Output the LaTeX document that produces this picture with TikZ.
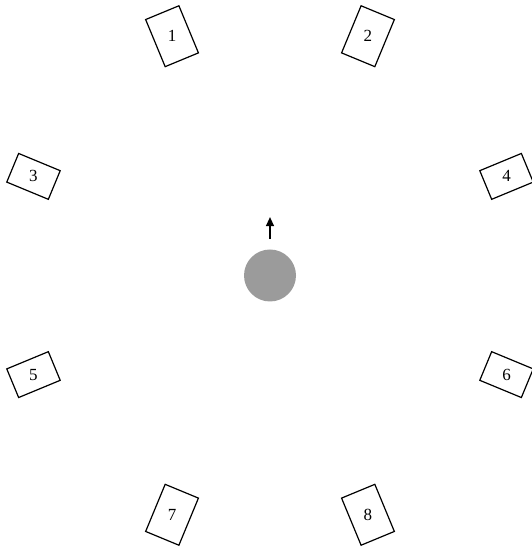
\documentclass[tikz,border=0pt]{standalone}
\usepackage{fontspec}
\setmainfont{Liberation Serif}
\usepackage{tikz}
\usetikzlibrary{arrows.meta, positioning}
\definecolor{listenergray}{HTML}{9B9B9B}

\begin{document}
\begin{tikzpicture}[
    x=0.5pt, y=0.5pt,
    spk/.style={rectangle, draw=black, line width=0.6pt, fill=white,
                minimum width=18pt, minimum height=25.5pt, inner sep=0pt},
    side/.style={minimum width=15.5pt, minimum height=22.5pt},
    num/.style={font=\fontsize{8.5}{10}\selectfont, inner sep=0pt},
    listener/.style={circle, fill=listenergray, minimum size=26pt, inner sep=0pt},
    arrow/.style={-{Triangle[length=4.5pt, width=4pt]}, line width=0.6pt}
]
\useasboundingbox (-270,275.5) rectangle (261,-275.5);

% Listener in the middle
\node[listener] (listener) at (0,0) {};
\coordinate[above=5pt of listener] (tail);
\coordinate[above=11pt of tail] (tip);
\draw[arrow] (tail) -- (tip);

% Front pair
\node[spk, rotate=22.5] (s1) at (112.5:256 and 259) {};
\node[num] (n1) at (s1.center) {1};
\node[spk, rotate=-22.5] (s2) at (67.5:256 and 259) {};
\node[num] (n2) at (s2.center) {2};

% Side pairs
\node[spk, side, rotate=67.5] (s3) at (157.5:256 and 259) {};
\node[num] (n3) at (s3.center) {3};
\node[spk, side, rotate=-67.5] (s4) at (22.5:256 and 259) {};
\node[num] (n4) at (s4.center) {4};
\node[spk, side, rotate=-67.5] (s5) at (202.5:256 and 259) {};
\node[num] (n5) at (s5.center) {5};
\node[spk, side, rotate=67.5] (s6) at (-22.5:256 and 259) {};
\node[num] (n6) at (s6.center) {6};

% Rear pair
\node[spk, rotate=-22.5] (s7) at (247.5:256 and 259) {};
\node[num] (n7) at (s7.center) {7};
\node[spk, rotate=22.5] (s8) at (292.5:256 and 259) {};
\node[num] (n8) at (s8.center) {8};

\end{tikzpicture}
\end{document}
